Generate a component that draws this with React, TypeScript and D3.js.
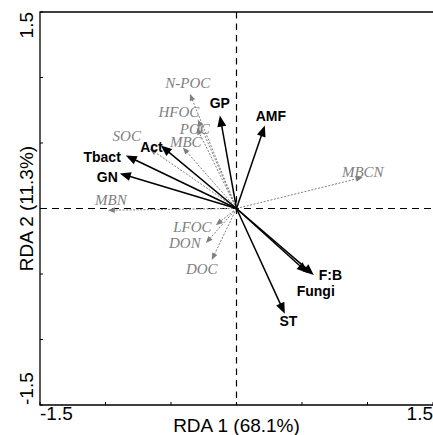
import React from "react";
import * as d3 from "d3";

// Response variables (black, bold)
const respNames = ["GP", "AMF", "F:B", "Fungi", "ST", "Act", "Tbact", "GN"];
const respRDA1 = [-0.127, 0.216, 0.59, 0.544, 0.369, -0.578, -0.845, -0.891];
const respRDA2 = [0.709, 0.633, -0.507, -0.492, -0.803, 0.481, 0.405, 0.268];

// Explanatory variables (grey, italic, dotted)
const explNames = ["MBCN", "MBN", "N-POC", "HFOC", "POC", "MBC", "SOC", "LFOC", "DON", "DOC"];
const explRDA1 = [0.964, -0.982, -0.356, -0.295, -0.303, -0.41, -0.662, -0.158, -0.234, -0.189];
const explRDA2 = [0.238, -0.013, 0.876, 0.68, 0.616, 0.466, 0.457, -0.127, -0.264, -0.393];

const axisTicks = [-1.5, -1, -0.5, 0, 0.5, 1, 1.5];
const xTitle = "RDA 1 (68.1%)";
const yTitle = "RDA 2 (11.3%)";

// label layout (pixel offsets from arrow tips)
const labelLayout: Record<string, [number, number, string]> = {
  GP: [0, -8, "middle"],
  AMF: [6, -5, "middle"],
  "F:B": [5, 5, "start"],
  Fungi: [8, 23, "middle"],
  ST: [3.5, 12, "middle"],
  Act: [2, 7, "end"],
  Tbact: [-5, 7, "end"],
  GN: [-2, 9, "end"],
  MBCN: [0, 0, "middle"],
  MBN: [3, -5.5, "middle"],
  "N-POC": [-2, -6, "middle"],
  HFOC: [-19, -2, "middle"],
  POC: [-2, 6, "middle"],
  MBC: [3, 0, "middle"],
  SOC: [-23, -8, "middle"],
  LFOC: [-23.5, 7, "middle"],
  DON: [-21, 5, "middle"],
  DOC: [-10, 14, "middle"],
};

const W = 433;
const H = 435;
const left = 40;
const right = 433;
const top = 12;
const bottom = 405;

function Arrow({ x0, y0, x1, y1, len, hw, color, width, dash }: any) {
  const dx = x1 - x0;
  const dy = y1 - y0;
  const L = Math.sqrt(dx * dx + dy * dy);
  const ux = dx / L;
  const uy = dy / L;
  const bx = x1 - ux * len;
  const by = y1 - uy * len;
  const px = -uy;
  const py = ux;
  const head = `M${x1},${y1}L${bx + px * hw},${by + py * hw}L${bx - px * hw},${by - py * hw}Z`;
  return (
    <g>
      <line x1={x0} y1={y0} x2={bx + ux * 1} y2={by + uy * 1} stroke={color} strokeWidth={width} strokeDasharray={dash} />
      <path d={head} fill={color} stroke="none" />
    </g>
  );
}

export default function App() {
  const x = d3.scaleLinear().domain([-1.5, 1.5]).range([left, right]);
  const y = d3.scaleLinear().domain([-1.5, 1.5]).range([bottom, top]);
  const ox = x(0);
  const oy = y(0);
  const grey = "#808080";
  const sans = "'Liberation Sans', Arial, sans-serif";
  const serif = "'Liberation Serif', 'Times New Roman', serif";

  return (
    <svg width={W} height={H} style={{ position: "absolute", left: 0, top: 0 }} xmlns="http://www.w3.org/2000/svg">
      <rect x={0} y={0} width={W} height={H} fill="#fff" />
      {/* zero dashed lines */}
      <line x1={ox} y1={top} x2={ox} y2={bottom} stroke="#000" strokeWidth={1.2} strokeDasharray="6.5 5" />
      <line x1={left} y1={oy} x2={right} y2={oy} stroke="#000" strokeWidth={1.2} strokeDasharray="7 5" />
      {/* frame */}
      <path d={`M${right},${top}H${left}V${bottom}H${right}`} fill="none" stroke="#000" strokeWidth={1.3} />
      {axisTicks.map((t) => (
        <line key={"xt" + t} x1={x(t)} x2={x(t)} y1={bottom} y2={bottom - 3} stroke="#000" strokeWidth={1} />
      ))}
      {axisTicks.map((t) => (
        <line key={"yt" + t} x1={left} x2={left + 3} y1={y(t)} y2={y(t)} stroke="#000" strokeWidth={1} />
      ))}
      {/* tick labels */}
      <text x={x(-1.5)} y={420} fontFamily={sans} fontSize={19} textAnchor="start">{"-1.5"}</text>
      <text x={x(1.5)} y={420} fontFamily={sans} fontSize={19} textAnchor="end">{"1.5"}</text>
      <text transform={`translate(33,${y(1.5)}) rotate(-90)`} fontFamily={sans} fontSize={19} textAnchor="end">{"1.5"}</text>
      <text transform={`translate(33,${y(-1.5)}) rotate(-90)`} fontFamily={sans} fontSize={19} textAnchor="start">{"-1.5"}</text>
      {/* axis titles */}
      <text x={ox} y={432} fontFamily={sans} fontSize={19} textAnchor="middle">{xTitle}</text>
      <text transform={`translate(33,${oy}) rotate(-90)`} fontFamily={sans} fontSize={19} textAnchor="middle">{yTitle}</text>

      {/* explanatory arrows */}
      {explNames.map((n, i) => (
        <Arrow key={"ea" + n} x0={ox} y0={oy} x1={x(explRDA1[i])} y1={y(explRDA2[i])} len={7} hw={2.8} color={grey} width={1} dash="2 1.5" />
      ))}
      {/* response arrows */}
      {respNames.map((n, i) => (
        <Arrow key={"ra" + n} x0={ox} y0={oy} x1={x(respRDA1[i])} y1={y(respRDA2[i])} len={11} hw={4.5} color="#000" width={1.5} />
      ))}
      {explNames.map((n, i) => {
        const [dx, dy, a] = labelLayout[n];
        return (
          <text key={"el" + n} x={x(explRDA1[i]) + dx} y={y(explRDA2[i]) + dy} fill={grey} fontFamily={serif} fontStyle="italic" fontSize={15} textAnchor={a}>
            {n}
          </text>
        );
      })}
      {respNames.map((n, i) => {
        const [dx, dy, a] = labelLayout[n];
        return (
          <text key={"rl" + n} x={x(respRDA1[i]) + dx} y={y(respRDA2[i]) + dy} fill="#000" fontFamily={sans} fontWeight="bold" fontSize={14} textAnchor={a}>
            {n}
          </text>
        );
      })}
    </svg>
  );
}
